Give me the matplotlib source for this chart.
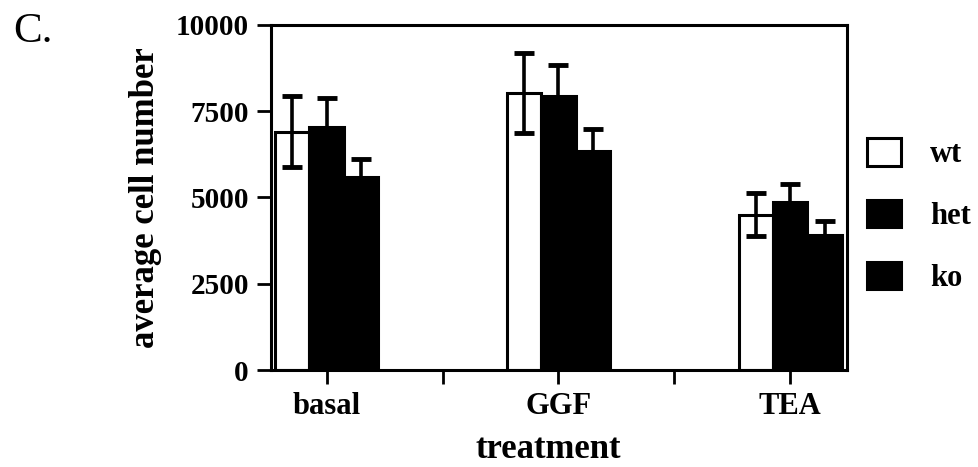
import matplotlib
matplotlib.use('Agg')
import matplotlib.pyplot as plt
from matplotlib.patches import Patch
import numpy as np

plt.rcParams['font.family'] = 'Liberation Serif'
plt.rcParams['font.weight'] = 'bold'

# average cell number per treatment and genotype
treatments = ['basal', 'GGF', 'TEA']
genotypes = ['wt', 'het', 'ko']
wt_mean = [6900, 8030, 4500]
het_mean = [7040, 7940, 4870]
ko_mean = [5590, 6350, 3910]
wt_err = [1030, 1160, 630]
het_err = [840, 900, 520]
ko_err = [520, 640, 400]

means = [wt_mean, het_mean, ko_mean]
errs = [wt_err, het_err, ko_err]
faces = ['white', 'black', 'black']

fig = plt.figure(figsize=(9.79, 4.67), dpi=100)
ax = fig.add_axes([0.2768, 0.2077, 0.5884, 0.7388])

x = np.arange(len(treatments))
w = 0.148
for i, g in enumerate(genotypes):
    pos = x + (i - 1) * w
    ax.bar(pos, means[i], w, color=faces[i], edgecolor='black', linewidth=2.2, label=g, zorder=2)
    ax.errorbar(pos, means[i], yerr=errs[i], fmt='none', ecolor='black',
                elinewidth=2.6, capsize=7, capthick=3.5, zorder=3)

ax.set_xlim(-0.24, 2.245)
ax.set_ylim(0, 10000)
ax.set_yticks([0, 2500, 5000, 7500, 10000])
ax.set_xticks(x)
ax.set_xticklabels(treatments)
ax.set_xticks([0.5, 1.5], minor=True)

for s in ax.spines.values():
    s.set_linewidth(2.2)
ax.tick_params(axis='both', which='both', direction='out', length=10, width=2, pad=6)
ax.tick_params(axis='y', labelsize=21)
ax.tick_params(axis='x', labelsize=22)

ax.set_ylabel('average cell number', fontsize=25, fontweight='bold', labelpad=10)
ax.set_xlabel('treatment', fontsize=25, fontweight='bold')
ax.xaxis.set_label_coords(0.482, -0.229)
ax.xaxis.label.set_va('center')

handles = [Patch(facecolor=f, edgecolor='black', linewidth=2.2) for f in faces]
fig.legend(handles, genotypes, loc='upper left', bbox_to_anchor=(0.886, 0.704),
           frameon=False, fontsize=22, handlelength=1.1, handleheight=1.0,
           handletextpad=0.95, labelspacing=1.0, borderpad=0, borderaxespad=0)

fig.text(0.0133, 0.910, 'C.', fontsize=31, fontweight='normal', va='baseline')

fig.savefig('out.png', dpi=100)
